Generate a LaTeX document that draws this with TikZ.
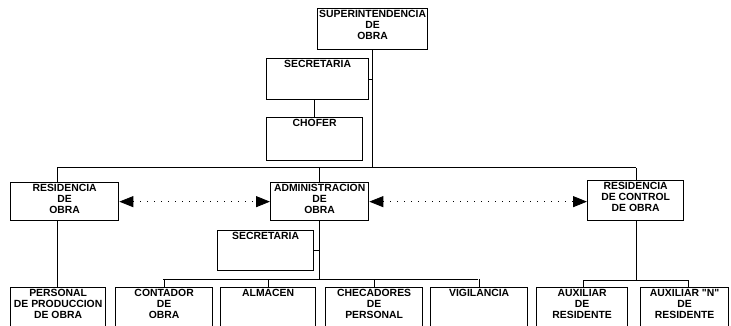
\documentclass[tikz,border=0pt]{standalone}
\usepackage{fontspec}
\newfontfamily\arial{Liberation Sans}
\usetikzlibrary{arrows.meta}

\begin{document}
\begin{tikzpicture}[x=1pt,y=-1pt,
  caja/.style={draw,line width=1.3pt,anchor=north west,inner sep=0pt},
  txt/.style={anchor=north,inner sep=2pt,align=center,
    font=\arial\bfseries\fontsize{10.4}{11.2}\selectfont},
  linea/.style={line width=1pt},
  enlace/.style={line width=0.8pt,dash pattern=on 1pt off 6pt,
    {Triangle[length=14pt,width=11pt]}-{Triangle[length=14pt,width=11pt]}}]

\useasboundingbox (0,0) rectangle (731,326);

% direccion
\node[caja,minimum width=110pt,minimum height=41pt,
  label={[txt]north:{SUPERINTENDENCIA\\DE\\OBRA}}] (sup) at (317,8) {};
\node[caja,minimum width=102pt,minimum height=41pt,
  label={[txt]north:SECRETARIA}] (sec1) at (266,58) {};
\node[caja,minimum width=96pt,minimum height=43pt,
  label={[txt]north:CHOFER}] (chof) at (266,117) {};

% segundo nivel
\node[caja,minimum width=108pt,minimum height=38pt,
  label={[txt]north:{RESIDENCIA\\DE\\OBRA}}] (res) at (10,182) {};
\node[caja,minimum width=98pt,minimum height=38pt,
  label={[txt]north:{ADMINISTRACION\\DE\\OBRA}}] (adm) at (270,182) {};
\node[caja,minimum width=96pt,minimum height=40pt,
  label={[txt]north:{RESIDENCIA\\DE CONTROL\\DE OBRA}}] (ctrl) at (587,180) {};
\node[caja,minimum width=96pt,minimum height=40pt,
  label={[txt]north:SECRETARIA}] (sec2) at (217,230) {};

% tercer nivel
\node[caja,minimum width=95pt,minimum height=43pt,
  label={[txt]north:{PERSONAL\\DE PRODUCCION\\DE OBRA}}] (pers) at (10,287) {};
\node[caja,minimum width=97pt,minimum height=43pt,
  label={[txt]north:{CONTADOR\\DE\\OBRA}}] (cont) at (115,287) {};
\node[caja,minimum width=95pt,minimum height=43pt,
  label={[txt]north:ALMACEN}] (alm) at (220,287) {};
\node[caja,minimum width=97pt,minimum height=43pt,
  label={[txt]north:{CHECADORES\\DE\\PERSONAL}}] (chec) at (325,287) {};
\node[caja,minimum width=97pt,minimum height=43pt,
  label={[txt]north:VIGILANCIA}] (vig) at (430,287) {};
\node[caja,minimum width=91pt,minimum height=43pt,
  label={[txt]north:{AUXILIAR\\DE\\RESIDENTE}}] (aux1) at (536,287) {};
\node[caja,minimum width=88pt,minimum height=43pt,
  label={[txt]north:{AUXILIAR "N"\\DE\\RESIDENTE}}] (auxn) at (640,287) {};

% barras
\coordinate (b1) at (57,168);
\coordinate (b2) at (636,168);
\coordinate (b3) at (163,279);
\coordinate (b4) at (478,279);
\coordinate (b5) at (583,280);
\coordinate (b6) at (688,280);

% conexiones
\draw[linea] (sup.south) -- (sup.south |- b1);
\draw[linea] (sec1.east) -- (sec1.east -| sup.south);
\draw[linea] (chof.north) -- (chof.north |- sec1.south);
\draw[linea] (b1) -- (b2);
\draw[linea] (b1) -- (b1 |- res.north);
\draw[linea] (res.south -| b1) -- (pers.north -| b1);
\draw[linea] (adm.north) -- (adm.north |- b1);
\draw[linea] (b2) -- (b2 |- ctrl.north);

\draw[linea] (adm.south) -- (adm.south |- b3);
\draw[linea] (sec2.east) -- (sec2.east -| adm.south);
\draw[linea] (b3) -- (b4);
\foreach \n in {cont,alm,chec,vig}
  \draw[linea] (\n.north) -- (\n.north |- b3);

\draw[linea] (b2 |- ctrl.south) -- (b2 |- b5);
\draw[linea] (b5) -- (b6);
\draw[linea] (b5) -- (b5 |- aux1.north);
\draw[linea] (b6) -- (b6 |- auxn.north);

% coordinacion
\draw[enlace] (res.east) -- (adm.west);
\draw[enlace] (adm.east) -- (adm.east -| ctrl.west);

\end{tikzpicture}
\end{document}
